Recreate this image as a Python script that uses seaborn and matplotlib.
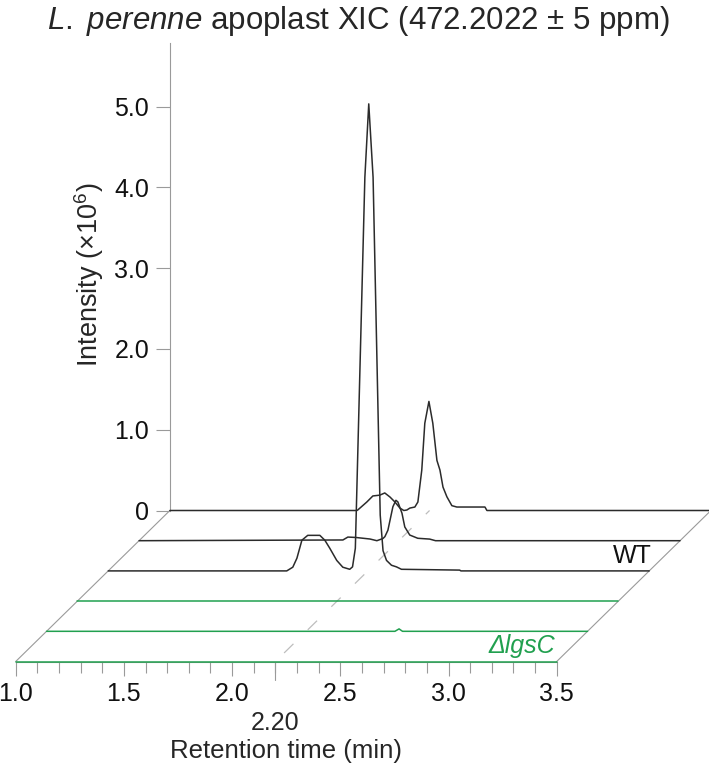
import numpy as np
import pandas as pd
import matplotlib
matplotlib.use("Agg")
import matplotlib.pyplot as plt
import seaborn as sns

# retention time (min) and intensity (x10^6) for each XIC trace, front -> back
dlgsc1_t = [1.0, 3.5]
dlgsc1_i = [0.0, 0.0]
dlgsc2_t = [1.0, 2.61, 2.629, 2.645, 3.5]
dlgsc2_i = [0.0, 0.0, 0.03, 0.0, 0.0]
dlgsc3_t = [1.0, 3.5]
dlgsc3_i = [0.0, 0.0]
wt1_t = [1.0, 1.825, 1.853, 1.872, 1.895, 1.922, 1.978, 2.001, 2.024, 2.056, 2.084, 2.116, 2.129, 2.142,
         2.186, 2.204, 2.224, 2.257, 2.270, 2.286, 2.309, 2.332, 2.355, 2.624, 2.63, 3.5]
wt1_i = [0.0, 0.0, 0.046, 0.157, 0.38, 0.44, 0.44, 0.38, 0.28, 0.13, 0.046, 0.02, 0.05, 0.28,
         4.87, 5.78, 4.87, 0.69, 0.25, 0.13, 0.07, 0.05, 0.02, 0.01, 0.0, 0.0]
wt2_t = [1.0, 1.942, 1.965, 2.002, 2.067, 2.099, 2.127, 2.136, 2.150, 2.173, 2.187, 2.196, 2.215, 2.228,
         2.251, 2.288, 2.343, 2.37, 3.5]
wt2_i = [0.0, 0.009, 0.045, 0.040, 0.021, 0.0, 0.027, 0.05, 0.13, 0.42, 0.50, 0.48, 0.34, 0.17,
         0.07, 0.03, 0.02, 0.0, 0.0]
wt3_t = [1.0, 1.864, 1.868, 1.910, 1.938, 1.970, 1.993, 2.017, 2.040, 2.063, 2.081, 2.095, 2.109, 2.132,
         2.146, 2.164, 2.178, 2.197, 2.215, 2.234, 2.248, 2.262, 2.280, 2.303, 2.326, 2.456, 2.465, 3.5]
wt3_i = [0.0, 0.0, 0.006, 0.105, 0.18, 0.19, 0.217, 0.167, 0.105, 0.03, 0.0, 0.006, 0.03, 0.043,
         0.105, 0.50, 1.08, 1.35, 1.08, 0.62, 0.50, 0.29, 0.17, 0.06, 0.043, 0.043, 0.0, 0.0]

trace_names = ["dlgsC_1", "dlgsC_2", "dlgsC_3", "WT_1", "WT_2", "WT_3"]
trace_t = [dlgsc1_t, dlgsc2_t, dlgsc3_t, wt1_t, wt2_t, wt3_t]
trace_i = [dlgsc1_i, dlgsc2_i, dlgsc3_i, wt1_i, wt2_i, wt3_i]

y_ticks = [0, 1, 2, 3, 4, 5]
y_ticklabels = ["0", "1.0", "2.0", "3.0", "4.0", "5.0"]
x_ticks = [1.0, 1.5, 2.0, 2.5, 3.0, 3.5]
x_ticklabels = ["1.0", "1.5", "2.0", "2.5", "3.0", "3.5"]
x_minor = [1.1, 1.2, 1.3, 1.4, 1.6, 1.7, 1.8, 1.9, 2.1, 2.2, 2.3, 2.4, 2.6, 2.7, 2.8, 2.9,
           3.1, 3.2, 3.3, 3.4]
marked_rt = 2.20

# pseudo-3D stacking offsets
DX = 0.1425   # min per trace
DY = 0.3738   # x10^6 per trace
n = len(trace_names)

rows = []
for k, (name, t, inten) in enumerate(zip(trace_names, trace_t, trace_i)):
    for tt, ii in zip(t, inten):
        rows.append({"trace": name, "x": tt + k * DX, "y": ii - (n - 1 - k) * DY})
df = pd.DataFrame(rows)

sns.set_style("white")
plt.rcParams['font.family'] = ['Liberation Sans', 'DejaVu Sans']
plt.rcParams['mathtext.fontset'] = 'custom'
plt.rcParams['mathtext.rm'] = 'Liberation Sans'
plt.rcParams['mathtext.it'] = 'Liberation Sans:italic'
plt.rcParams['lines.scale_dashes'] = False

black = "#2b2b2b"
green = "#21a04f"
grey = "#9a9a9a"
palette = {nm: (green if nm.startswith("dlgsC") else black) for nm in trace_names}

fig = plt.figure(figsize=(7.09, 7.64), dpi=100)
ax = fig.add_axes([0, 0, 1, 1])

# pixel-matched limits
ax.set_xlim(1.0 - 15.7 / 216.4, 1.0 + (709 - 15.7) / 216.4)
ax.set_ylim(-(764 - 510.5) / 80.8, 510.5 / 80.8)

y_front = -(n - 1) * DY

# floor edges and marker line for 2.20 min
ax.plot([1.0, 1.0 + (n - 1) * DX], [y_front, 0], color=grey, lw=0.8, zorder=1)
ax.plot([3.5, 3.5 + (n - 1) * DX], [y_front, 0], color=grey, lw=0.8, zorder=1)
ax.plot([marked_rt, marked_rt + (n - 1) * DX], [y_front, 0], color="#bdbdbd", lw=0.9,
        linestyle=(15, (9.4, 14.4)), zorder=1)

sns.lineplot(data=df, x="x", y="y", hue="trace", palette=palette, estimator=None,
             sort=False, lw=1.1, legend=False, ax=ax, zorder=3)

for sp in ["top", "right"]:
    ax.spines[sp].set_visible(False)
ax.spines["left"].set_position(("data", 1.0 + (n - 1) * DX))
ax.spines["left"].set_bounds(0, max(wt1_i))
ax.spines["bottom"].set_position(("data", y_front))
ax.spines["bottom"].set_bounds(1.0, 3.5)
for sp in ["left", "bottom"]:
    ax.spines[sp].set_color(grey)
    ax.spines[sp].set_linewidth(0.8)
    ax.spines[sp].set_zorder(1)

ax.set_yticks(y_ticks)
ax.set_yticklabels(y_ticklabels)
ax.set_xticks(x_ticks)
ax.set_xticklabels(x_ticklabels)
ax.set_xticks(x_minor, minor=True)
ax.tick_params(bottom=True, left=True, which="both")
ax.tick_params(axis="both", which="major", direction="out", length=10, width=0.8,
               color=grey, labelsize=18, pad=5, labelcolor="#111111")
ax.tick_params(axis="x", which="minor", direction="out", length=8, width=0.8, color=grey)
ax.set_xlabel("")
ax.set_ylabel("")

# 2.20 marker tick and label
ax.plot([marked_rt, marked_rt], [y_front, y_front - 18 / 80.8], color=grey, lw=0.8, zorder=1)
ax.text(marked_rt, y_front - 61 / 80.8, f"{marked_rt:.2f}", ha="center", va="center", fontsize=18)

ax.text(1.0 + (286 - 15.7) / 216.4, -(751 - 510.5) / 80.8, "Retention time (min)",
        ha="center", va="center", fontsize=18.5)
ax.text(1.0 + (89 - 15.7) / 216.4, (510.5 - 275) / 80.8, "Intensity (×10$^6$)",
        ha="center", va="center", rotation=90, fontsize=19.5)

ax.text(1.0 + (652 - 15.7) / 216.4, (510.5 - 556) / 80.8, "WT", ha="right", va="center",
        fontsize=18, color="#111111")
ax.text(1.0 + (555 - 15.7) / 216.4, (510.5 - 646) / 80.8, "ΔlgsC", ha="right", va="center",
        fontsize=18, color=green, style="italic")

fig.text(358 / 709, 1 - 21 / 764, r"$\it{L.\ perenne}$ apoplast XIC (472.2022 ± 5 ppm)",
         ha="center", va="center", fontsize=22.5)

fig.savefig("out.png", dpi=100)
